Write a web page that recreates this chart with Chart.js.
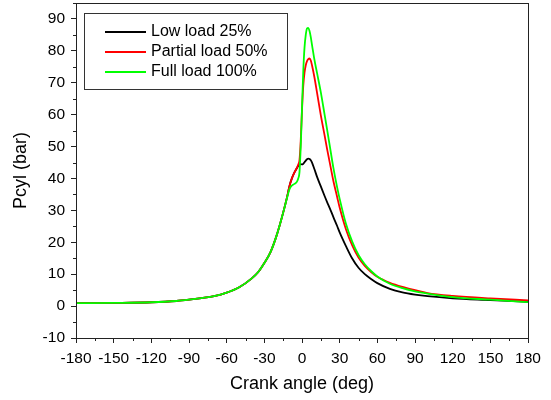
<!DOCTYPE html>
<html>
<head>
<meta charset="utf-8">
<script src="https://cdn.jsdelivr.net/npm/chart.js@4.4.1/dist/chart.umd.min.js"></script>
<style>
  html, body { margin: 0; padding: 0; background: #fff; }
  #wrap { width: 551px; height: 400px; }
</style>
</head>
<body>
<div id="wrap"><canvas id="pcyl" width="551" height="400"></canvas></div>
<script>
// crank angle (deg) shared by all three curves
const crankAngle = [-180, -150, -120, -100, -90, -80, -70, -60, -50, -40,
  -35, -30, -25, -20, -15, -12, -10, -8, -6, -4,
  -3, -2, -1, 0, 1, 2, 3, 4, 5, 6,
  7, 8, 10, 12, 15, 18, 20, 22, 25, 28,
  30, 35, 40, 45, 50, 55, 60, 70, 80, 90,
  100, 120, 150, 180];

// cylinder pressure (bar)
const lowLoad = [0.9, 1.0, 1.2, 1.6, 2.0, 2.5, 3.1, 4.2, 5.9, 8.7,
  10.6, 13.5, 17.0, 22.4, 29.3, 34.0, 37.6, 40.1, 41.9, 43.3,
  43.9, 44.3, 44.5, 44.4, 44.6, 45.1, 45.6, 46.0, 46.2, 46.1,
  45.7, 45.0, 42.8, 40.5, 37.5, 34.5, 32.6, 30.8, 27.9, 25.1,
  23.1, 18.8, 14.9, 12.0, 10.0, 8.5, 7.2, 5.4, 4.3, 3.6,
  3.1, 2.45, 1.9, 1.35];

const partialLoad = [0.9, 1.0, 1.2, 1.6, 2.0, 2.5, 3.1, 4.2, 5.9, 8.7,
  10.6, 13.5, 17.0, 22.4, 29.3, 34.0, 37.6, 40.1, 41.9, 43.4,
  44.4, 45.8, 52.0, 61.5, 69.0, 73.2, 75.5, 76.8, 77.4, 77.6,
  77.0, 75.4, 71.5, 66.8, 59.8, 53.5, 49.2, 45.2, 39.2, 34.2,
  30.9, 24.1, 19.0, 15.2, 12.6, 10.7, 9.2, 7.3, 6.0, 5.0,
  4.1, 3.2, 2.4, 1.8];

const fullLoad = [0.9, 1.0, 1.2, 1.6, 2.0, 2.5, 3.1, 4.2, 5.9, 8.7,
  10.6, 13.5, 17.0, 22.4, 29.3, 33.8, 36.6, 37.8, 38.3, 39.0,
  40.0, 42.0, 50.0, 62.0, 73.5, 81.0, 85.0, 87.0, 87.2, 86.2,
  84.3, 81.8, 77.0, 73.0, 67.0, 60.0, 55.3, 50.5, 43.3, 37.2,
  33.6, 25.8, 20.2, 16.0, 13.1, 11.0, 9.3, 7.0, 5.6, 4.6,
  3.9, 2.8, 2.0, 1.25];

const seriesLabels = ['Low load 25%', 'Partial load 50%', 'Full load 100%'];
const seriesColors = ['#000000', '#ff0000', '#00ff00'];

const xTickValues = [-180, -150, -120, -90, -60, -30, 0, 30, 60, 90, 120, 150, 180];
const yTickValues = [-10, 0, 10, 20, 30, 40, 50, 60, 70, 80, 90];

const FONT = "'Liberation Sans', Arial, sans-serif";

const toPoints = values => crankAngle.map((a, i) => ({ x: a, y: values[i] }));

// box around the plot, minor ticks, legend inside the plot
const framePlugin = {
  id: 'frame',
  afterDraw(chart) {
    const { ctx, chartArea: area, scales } = chart;
    ctx.save();
    ctx.strokeStyle = '#222';
    ctx.lineWidth = 1;
    ctx.strokeRect(area.left + 0.5, area.top + 0.5, area.right - area.left, area.bottom - area.top);

    // minor ticks halfway between the labelled ones
    ctx.beginPath();
    for (let i = 0; i < xTickValues.length - 1; i++) {
      const v = (xTickValues[i] + xTickValues[i + 1]) / 2;
      const px = Math.round(scales.x.getPixelForValue(v)) + 0.5;
      ctx.moveTo(px, area.bottom);
      ctx.lineTo(px, area.bottom + 3);
    }
    for (let i = 0; i < yTickValues.length; i++) {
      const v = yTickValues[i] + 5;
      const py = Math.round(scales.y.getPixelForValue(v)) + 0.5;
      ctx.moveTo(area.left, py);
      ctx.lineTo(area.left - 3, py);
    }
    ctx.stroke();

    // legend
    const bx = area.left + 8, by = area.top + 10;
    ctx.fillStyle = '#fff';
    ctx.fillRect(bx, by, 203, 76);
    ctx.strokeStyle = '#333';
    ctx.strokeRect(bx + 0.5, by + 0.5, 203, 76);
    ctx.font = '16px ' + FONT;
    ctx.textBaseline = 'middle';
    seriesLabels.forEach((label, i) => {
      const ly = by + 19 + i * 20;
      ctx.strokeStyle = seriesColors[i];
      ctx.lineWidth = 1.8;
      ctx.beginPath();
      ctx.moveTo(bx + 21, ly);
      ctx.lineTo(bx + 62, ly);
      ctx.stroke();
      ctx.fillStyle = '#000';
      ctx.fillText(label, bx + 67, ly);
    });
    ctx.restore();
  }
};

new Chart(document.getElementById('pcyl'), {
  type: 'line',
  data: {
    datasets: [
      { label: seriesLabels[0], data: toPoints(lowLoad), borderColor: seriesColors[0], order: 3 },
      { label: seriesLabels[1], data: toPoints(partialLoad), borderColor: seriesColors[1], order: 2 },
      { label: seriesLabels[2], data: toPoints(fullLoad), borderColor: seriesColors[2], order: 1 }
    ]
  },
  options: {
    responsive: false,
    animation: false,
    devicePixelRatio: 1,
    layout: { padding: { top: 3, right: 23, left: 0, bottom: 0 } },
    elements: {
      line: { borderWidth: 1.8, cubicInterpolationMode: 'monotone', fill: false },
      point: { radius: 0 }
    },
    plugins: {
      legend: { display: false },
      tooltip: { enabled: false }
    },
    scales: {
      x: {
        type: 'linear',
        min: -180,
        max: 180,
        ticks: { color: '#000', font: { family: FONT, size: 15.5 }, padding: 6, maxRotation: 0, autoSkip: false },
        grid: { drawOnChartArea: false, tickLength: 5, color: '#222' },
        border: { color: '#222', width: 1 },
        title: { display: true, text: 'Crank angle (deg)', color: '#000', font: { family: FONT, size: 18 }, padding: { top: 0, bottom: 5 } },
        afterBuildTicks(scale) { scale.ticks = xTickValues.map(v => ({ value: v })); },
        afterFit(scale) { scale.height = 62; scale.paddingLeft = 0; scale.paddingRight = 0; }
      },
      y: {
        min: -10,
        max: 95,
        ticks: { color: '#000', font: { family: FONT, size: 15.5 }, padding: 6, autoSkip: false },
        grid: { drawOnChartArea: false, tickLength: 5, color: '#222' },
        border: { color: '#222', width: 1 },
        title: { display: true, text: 'Pcyl (bar)', color: '#000', font: { family: FONT, size: 18 }, padding: { top: 10, bottom: 0 } },
        afterBuildTicks(scale) { scale.ticks = yTickValues.map(v => ({ value: v })); },
        afterFit(scale) { scale.width = 76; scale.paddingTop = 0; scale.paddingBottom = 0; }
      }
    }
  },
  plugins: [framePlugin]
});
</script>
</body>
</html>
